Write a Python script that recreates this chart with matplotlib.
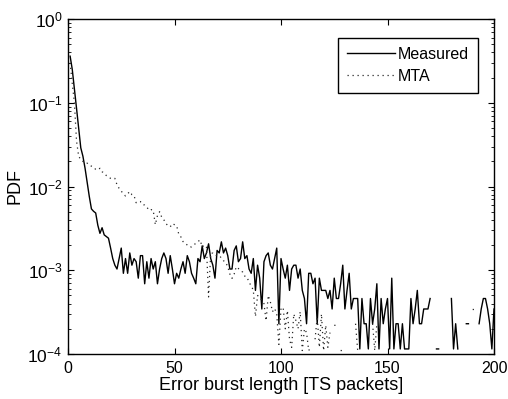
"""error burst length PDF: measured vs MTA model"""

import numpy as np
import matplotlib
matplotlib.use("Agg")
import matplotlib.pyplot as plt
from matplotlib.ticker import LogLocator, NullFormatter

plt.rcParams['font.family'] = ['Liberation Sans', 'DejaVu Sans']
plt.rcParams['mathtext.fontset'] = 'custom'
plt.rcParams['mathtext.rm'] = 'Liberation Sans'
plt.rcParams['mathtext.it'] = 'Liberation Sans'

# ---------------------------------------------------------------- data
burst_length = np.arange(1, 201)

# measured histogram (number of bursts per length), normalised below
MEASURED_TOTAL = 8700
measured_counts = [
    3130, 2175, 1288, 748, 435, 252, 200, 144, 97, 66,
    47, 44, 42, 30, 24, 28, 23, 22, 21, 16,
    12, 10, 9, 12, 16, 8, 12, 8, 14, 10,
    12, 11, 7, 13, 13, 6, 11, 7, 12, 9,
    11, 6, 9, 12, 14, 12, 8, 13, 9, 6,
    8, 7, 9, 11, 8, 13, 11, 8, 7, 6,
    12, 11, 17, 12, 14, 18, 12, 10, 7, 15,
    14, 19, 14, 16, 13, 9, 9, 15, 17, 11,
    12, 19, 12, 13, 9, 8, 12, 5, 10, 7,
    3, 11, 13, 14, 10, 9, 12, 16, 2, 12,
    9, 7, 10, 5, 9, 10, 10, 7, 9, 5,
    4, 2, 8, 8, 6, 7, 2, 7, 5, 5,
    5, 4, 5, 3, 7, 4, 4, 6, 10, 3,
    5, 8, 3, 4, 4, 4, 1, 4, 2, 2,
    1, 4, 2, 3, 6, 1, 4, 2, 3, 4,
    1, 7, 1, 2, 2, 1, 2, 1, 1, 1,
    4, 2, 3, 5, 2, 2, 3, 3, 3, 4,
    0, 0, 1, 1, 0, 0, 0, 0, 0, 4,
    1, 2, 1, 0, 0, 0, 2, 2, 0, 0,
    0, 0, 2, 3, 4, 4, 3, 2, 1, 3,
]

# MTA model pdf
mta_pdf = [
    0.30, 0.17, 0.10, 0.035, 0.023, 0.021, 0.020, 0.019, 0.019, 0.018,
    0.0175, 0.017, 0.016, 0.0158, 0.0165, 0.015, 0.0145, 0.0135, 0.013, 0.0125,
    0.0124, 0.0125, 0.0105, 0.0095, 0.0088, 0.0082, 0.0077, 0.0082, 0.0087, 0.0080,
    0.0078, 0.0064, 0.0066, 0.0066, 0.0061, 0.0060, 0.0057, 0.0052, 0.0053, 0.0052,
    0.0035, 0.0045, 0.0050, 0.0043, 0.0040, 0.0036, 0.0034, 0.0033, 0.0036, 0.0035,
    0.0034, 0.0027, 0.0025, 0.0022, 0.0021, 0.0020, 0.0019, 0.0019, 0.0020, 0.0021,
    0.0022, 0.0023, 0.0019, 0.0020, 0.0019, 0.00048, 0.0016, 0.0016, 0.0015, 0.0015,
    0.0015, 0.0014, 0.0013, 0.00125, 0.0011, 0.0009, 0.0008, 0.0009, 0.0011, 0.00105,
    0.0010, 0.00095, 0.00085, 0.00083, 0.00072, 0.00065, 0.00058, 0.00028, 0.00050, 0.00047,
    0.00044, 0.00040, 0.00025, 0.00050, 0.00042, 0.00032, 0.00035, 0.00030, 0.00013, 0.00035,
    0.00036, 0.00020, 0.00033, 0.00015, 0.00012, 0.00030, 0.00025, 0.00020, 0.00032, 0.00011,
    0.00020, 0.00018, 0.00011, 0.00012, 0, 0.00015, 0.00028, 0.00012, 0.00030, 0.00011,
    0.00022, 0.00012, 0.00018, 0, 0.00022, 0.00022, 0, 0.00011, 0.00011, 0.00011,
    0, 0, 0, 0, 0.00023, 0.00011, 0, 0, 0, 0,
    0, 0, 0.00023, 0.00011, 0.00023, 0, 0, 0, 0, 0,
    0, 0, 0, 0, 0, 0, 0, 0, 0, 0,
    0, 0, 0, 0, 0, 0, 0, 0, 0, 0,
    0, 0, 0, 0, 0, 0, 0, 0, 0, 0,
    0, 0, 0, 0, 0, 0, 0, 0, 0, 0.00034,
    0.00034, 0, 0, 0, 0, 0, 0, 0, 0, 0,
]

series_labels = ['Measured', 'MTA']
x_ticks = [0, 50, 100, 150, 200]

# ---------------------------------------------------------------- plot
# empty bins are not drawn on a log axis (gaps, like semilogy)
measured = np.array(measured_counts, dtype=float) / MEASURED_TOTAL
measured[measured <= 0] = np.nan
mta = np.array(mta_pdf, dtype=float)
mta[mta <= 0] = np.nan

fig = plt.figure(figsize=(5.08, 3.99), dpi=100)
ax = fig.add_axes([68/508, 1 - 354/399, 426/508, 335/399])

ax.semilogy(burst_length, measured, '-', color='black', lw=1.0, label=series_labels[0])
ax.semilogy(burst_length, mta, color='0.15', lw=0.9, linestyle=(0, (1, 3)),
            label=series_labels[1])

ax.set_xlim(0, 200)
ax.set_ylim(1e-4, 1)
ax.set_xticks(x_ticks)
ax.yaxis.set_major_locator(LogLocator(base=10, numticks=10))
ax.yaxis.set_minor_locator(LogLocator(base=10, subs=np.arange(2, 10), numticks=20))
ax.yaxis.set_minor_formatter(NullFormatter())

ax.tick_params(which='both', direction='in', top=True, right=True)
ax.tick_params(axis='x', labelsize=11.5, pad=5)
ax.tick_params(axis='y', labelsize=12.5, pad=4)
ax.tick_params(which='major', length=4, width=0.8)
ax.tick_params(which='minor', length=2.5, width=0.6)
for s in ax.spines.values():
    s.set_linewidth(1.0)

ax.set_xlabel('Error burst length [TS packets]', fontsize=13, labelpad=1)
ax.set_ylabel('PDF', fontsize=13, labelpad=3)

leg = ax.legend(loc='upper right', bbox_to_anchor=(0.962, 0.944), borderaxespad=0,
                fontsize=11.5, fancybox=False, framealpha=1, handlelength=3.0,
                handletextpad=0.2, borderpad=0.55, labelspacing=0.45)
leg.get_frame().set_edgecolor('black')
leg.get_frame().set_linewidth(1.0)

fig.savefig('out.png', dpi=100)
